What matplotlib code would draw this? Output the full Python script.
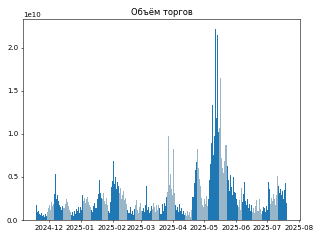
import matplotlib
matplotlib.use('Agg')
import matplotlib.pyplot as plt
import pandas as pd

# Daily trading volume, in units of 1e9, from 2024-11-19
start_date = '2024-11-19'
volume = [
    # Nov 19-30
    1.7, 0.9, 1.1, 0.7, 0.6, 0.8, 0.5, 0.6, 0.4, 0.7, 0.5, 0.9,
    # Dec
    1.4, 1.8, 1.2, 2.1, 1.6, 1.9, 3.0, 5.3, 2.5, 2.9, 2.2, 1.8, 1.5, 1.2, 1.6,
    1.4, 1.9, 2.5, 2.1, 1.6, 1.2, 0.9, 0.6, 0.9, 0.5, 1.1, 0.7, 1.3, 1.0, 1.5, 0.8,
    # Jan
    1.5, 1.2, 2.9, 2.2, 2.6, 2.0, 2.4, 2.7, 2.1, 1.8, 1.5, 1.2, 0.9, 1.6, 2.0, 1.4,
    2.4, 3.0, 4.7, 3.2, 2.6, 2.4, 3.1, 2.2, 1.9, 2.6, 1.7, 1.0, 0.8, 2.1,
    # Feb
    3.8, 4.5, 6.8, 4.2, 5.0, 3.6, 4.4, 3.9, 3.2, 3.7, 2.5, 2.9, 3.4, 2.3, 2.6, 1.9,
    1.2, 0.8, 1.5, 0.7, 1.0, 0.6, 1.3, 1.8, 2.3, 1.2, 0.8, 1.5,
    # Mar
    2.0, 1.1, 1.0, 1.4, 0.9, 1.7, 4.0, 1.2, 1.5, 0.8, 1.1, 1.6, 1.3, 2.0, 1.5, 0.9,
    1.7, 1.2, 1.8, 1.4, 0.7, 1.9, 1.1, 2.0, 1.6, 2.7, 3.3, 9.7, 4.1, 5.4, 3.6,
    # Apr
    2.9, 8.3, 3.2, 1.8, 1.2, 1.5, 0.9, 1.9, 1.1, 1.4, 0.7, 1.0, 0.6, 0.8, 0.5, 1.1,
    0.6, 0.9, 0.4, 1.2, 2.7, 4.3, 5.8, 6.7, 8.2, 6.0, 4.8, 3.9, 2.6, 1.8,
    # May
    1.5, 2.4, 1.9, 2.8, 1.6, 2.4, 4.6, 6.5, 8.9, 13.3, 7.5, 9.8, 22.2, 11.9, 21.5,
    10.2, 10.7, 16.5, 7.2, 6.1, 5.5, 6.8, 8.7, 6.3, 4.6, 3.4, 5.2, 3.8, 2.9, 5.0, 3.3,
    # Jun
    3.1, 2.4, 1.8, 1.5, 2.3, 1.2, 3.7, 2.1, 3.0, 4.4, 2.2, 1.7, 2.5, 1.4, 1.9, 1.1,
    1.7, 0.9, 1.4, 0.8, 1.6, 2.3, 1.1, 2.5, 1.3, 0.7, 1.0, 1.5, 1.4, 0.9,
    # Jul 1-21
    1.6, 1.2, 4.4, 3.6, 1.9, 2.6, 2.2, 3.0, 2.4, 1.8, 2.9, 5.1, 4.0, 3.2, 3.6, 2.9,
    3.4, 2.5, 3.5, 4.3, 2.0,
]

# Colour runs: (kind, number of days); 'd' = dark, 'l' = light
runs = [
    ('d', 11), ('l', 7), ('d', 9), ('l', 7), ('d', 9),
    ('d', 3), ('l', 8), ('d', 10), ('l', 6), ('d', 3),
    ('d', 8), ('l', 8), ('d', 7), ('l', 7),
    ('d', 10), ('l', 7), ('d', 7), ('l', 8),
    ('d', 10), ('l', 7), ('d', 4), ('l', 11),
    ('d', 11), ('l', 7), ('d', 8),
    ('d', 3), ('l', 4), ('d', 10), ('l', 9), ('d', 8),
    ('l', 8), ('d', 9),
]

colours = {'d': '#1f77b4', 'l': '#98b6c7'}

kinds = []
for kind, n in runs:
    kinds += [kind] * n
kinds = (kinds + ['d'] * len(volume))[:len(volume)]

dates = pd.date_range(start_date, periods=len(volume), freq='D')
values = [v * 1e9 for v in volume]
bar_colours = [colours[k] for k in kinds]

fig, ax = plt.subplots(figsize=(6.4, 4.8), dpi=50)
ax.bar(dates, values, width=1.0, color=bar_colours)
ax.set_title('Объём торгов')
fig.subplots_adjust(left=0.072, right=0.9375, bottom=0.083, top=0.92)
fig.savefig('out.png')
